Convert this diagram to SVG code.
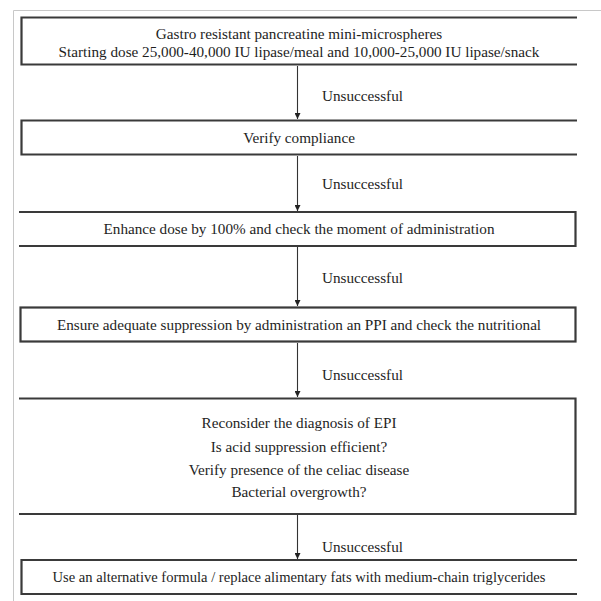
<svg xmlns="http://www.w3.org/2000/svg" width="601" height="601" viewBox="0 0 601 601">
<defs>
<style>
.box{fill:none;stroke:#3a3a3a;stroke-width:2.2}
.t{font-family:"Liberation Serif","Times New Roman",serif;font-size:15.2px;fill:#1e1e1e;text-anchor:middle}
.l{font-family:"Liberation Serif","Times New Roman",serif;font-size:15.2px;fill:#1e1e1e}
.c{stroke:#333;stroke-width:1.1;fill:none;marker-end:url(#ah)}
.frame{stroke:#c8c8c8;stroke-width:1;fill:none}
</style>
<marker id="ah" viewBox="0 0 10 10" refX="10" refY="5" markerWidth="7" markerHeight="6" markerUnits="userSpaceOnUse" orient="auto">
<path d="M0,0 L10,5 L0,10 z" fill="#222"/>
</marker>
</defs>
<rect width="601" height="601" fill="#fff"/>
<path class="frame" d="M13.5,601 V10.5 H601"/>
<g id="connectors">
<line class="c" x1="297.5" y1="66" x2="297.5" y2="119"/>
<line class="c" x1="297.5" y1="156" x2="297.5" y2="211"/>
<line class="c" x1="297.5" y1="247" x2="297.5" y2="306"/>
<line class="c" x1="297.5" y1="343" x2="297.5" y2="397"/>
<line class="c" x1="297.5" y1="515" x2="297.5" y2="559"/>
<text class="l" x="322" y="101">Unsuccessful</text>
<text class="l" x="322" y="189">Unsuccessful</text>
<text class="l" x="322" y="283">Unsuccessful</text>
<text class="l" x="322" y="380">Unsuccessful</text>
<text class="l" x="322" y="552">Unsuccessful</text>
</g>
<g id="n1">
<path class="box" d="M577,17.5 H21.5 V64.5 H577"/>
<text class="t" x="299" y="39">Gastro resistant pancreatine mini-microspheres</text>
<text class="t" x="299" y="57">Starting dose 25,000-40,000 IU lipase/meal and 10,000-25,000 IU lipase/snack</text>
</g>
<g id="n2">
<path class="box" d="M577,120.5 H21.5 V154.5 H577"/>
<text class="t" x="299" y="143">Verify compliance</text>
</g>
<g id="n3">
<path class="box" d="M19,212 H575.5 V246 H19"/>
<text class="t" x="299" y="234">Enhance dose by 100% and check the moment of administration</text>
</g>
<g id="n4">
<rect class="box" x="20.5" y="307.5" width="555" height="34"/>
<text class="t" x="299" y="330">Ensure adequate suppression by administration an PPI  and check the nutritional</text>
</g>
<g id="n5">
<path class="box" d="M19,398.5 H575.5 V514 H19"/>
<text class="t" x="299" y="428">Reconsider the diagnosis of EPI</text>
<text class="t" x="299" y="452">Is acid suppression efficient?</text>
<text class="t" x="299" y="475">Verify presence of the celiac disease</text>
<text class="t" x="299" y="497">Bacterial overgrowth?</text>
</g>
<g id="n6">
<path class="box" d="M577,560 H21.5 V594 H577"/>
<text class="t" x="299" y="582" textLength="493" lengthAdjust="spacingAndGlyphs">Use an alternative formula / replace alimentary fats with medium-chain triglycerides</text>
</g>
</svg>
